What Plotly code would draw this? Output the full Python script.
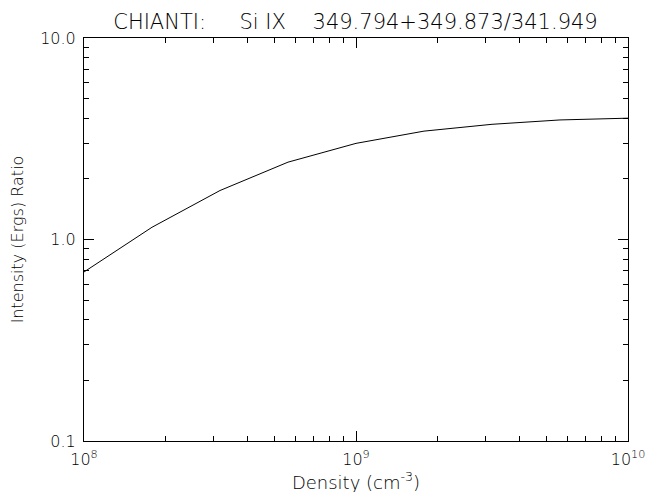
import plotly.graph_objects as go

density = [1e8, 1.778e8, 3.162e8, 5.623e8, 1e9, 1.778e9, 3.162e9, 5.623e9, 1e10]
ratio = [0.69, 1.15, 1.75, 2.42, 3.0, 3.45, 3.73, 3.92, 4.0]

x_tickvals = [1e8, 1e9, 1e10]
x_ticktext = ["10<sup>8</sup>", "10<sup>9</sup>", "10<sup>10</sup>"]
y_tickvals = [0.1, 1.0, 10.0]
y_ticktext = ["0.1", "1.0", "10.0"]

x_minor = [m * 10 ** e for e in (8, 9) for m in range(2, 10)]
y_minor = [m * 10 ** e for e in (-1, 0) for m in range(2, 10)]

NB = "\u00a0"
title_text = "CHIANTI:" + NB * 5 + "Si" + NB + "IX" + NB * 4 + "349.794+349.873/341.949"

FONT = "DejaVu Sans"
TXT = "#000"

fig = go.Figure()
fig.add_trace(go.Scatter(x=density, y=ratio, mode="lines",
                         line=dict(color="black", width=1), showlegend=False))

axis_common = dict(
    type="log", showgrid=False, zeroline=False, showline=True,
    linecolor="black", linewidth=1, mirror="allticks",
    ticks="inside", ticklen=10, tickwidth=1, tickcolor="black",
    tickfont=dict(family=FONT, size=16, color=TXT, weight=300),
    automargin=False,
)

fig.update_xaxes(
    **axis_common,
    range=[8, 10],
    tickmode="array", tickvals=x_tickvals, ticktext=x_ticktext,
    ticklabelstandoff=4,
    minor=dict(tickmode="array", tickvals=x_minor, ticks="inside", ticklen=5,
               tickcolor="black", tickwidth=1, showgrid=False),
    title=dict(text="Density (cm<sup>-3</sup>)",
               font=dict(family=FONT, size=18, color=TXT, weight=300),
               standoff=0),
)
fig.update_yaxes(
    **axis_common,
    range=[-1, 1],
    tickmode="array", tickvals=y_tickvals, ticktext=y_ticktext,
    ticklabelstandoff=4,
    minor=dict(tickmode="array", tickvals=y_minor, ticks="inside", ticklen=5,
               tickcolor="black", tickwidth=1, showgrid=False),
    title=dict(text="Intensity (Ergs) Ratio",
               font=dict(family=FONT, size=16, color=TXT, weight=300),
               standoff=13),
)

fig.update_layout(
    width=656, height=492,
    margin=dict(l=76, r=36, t=30, b=59),
    paper_bgcolor="white", plot_bgcolor="white",
    title=dict(text=title_text, x=0.5297, xanchor="center", y=0.9726, yanchor="middle",
               font=dict(family=FONT, size=21, color=TXT, weight=300)),
)

fig.write_html("out.html")
